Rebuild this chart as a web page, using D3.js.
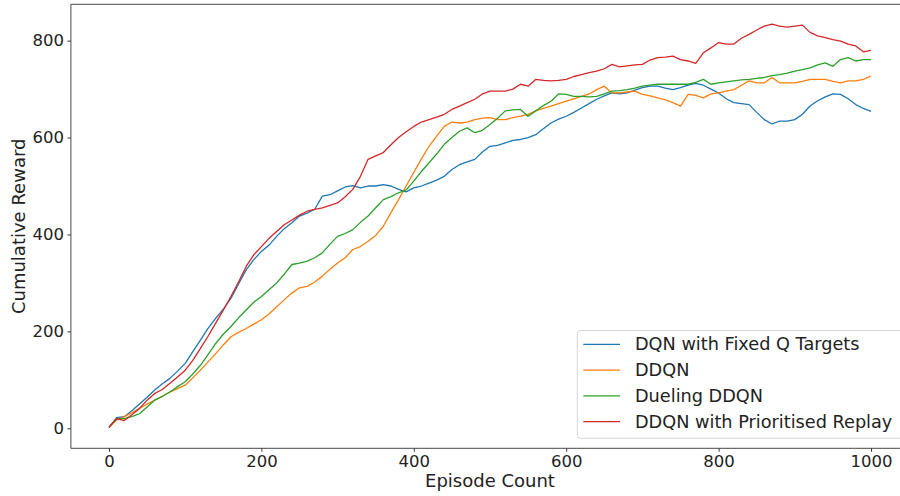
<!DOCTYPE html>
<html>
<head>
<meta charset="utf-8">
<script src="https://cdn.jsdelivr.net/npm/d3@7"></script>
<style>
  html, body { margin: 0; padding: 0; background: #fff; }
  svg { display: block; font-family: "DejaVu Sans", sans-serif; }
</style>
</head>
<body>
<svg id="chart" width="900" height="496"></svg>
<script>
// Episodes sampled every 10 steps
const episodes = d3.range(0, 1001, 10);

const seriesNames = [
  "DQN with Fixed Q Targets",
  "DDQN",
  "Dueling DDQN",
  "DDQN with Prioritised Replay"
];

const dqnFixedQ = [
  2, 22, 24, 36, 50, 64, 79, 92, 103, 118,
  134, 158, 182, 206, 227, 246, 268, 298, 327, 348,
  365, 378, 396, 412, 424, 438, 444, 452, 479, 482,
  490, 498, 501, 496, 500, 500, 503, 500, 493, 488,
  496, 500, 506, 512, 520, 534, 544, 550, 555, 570,
  582, 584, 589, 594, 596, 600, 606, 618, 630, 638,
  644, 652, 661, 670, 679, 686, 692, 690, 692, 698,
  703, 706, 706, 702, 699, 703, 708, 712, 708, 700,
  692, 680, 672, 670, 668, 652, 637, 628, 634, 634,
  637, 648, 665, 676, 684, 690, 689, 680, 668, 660,
  654
];

const ddqn = [
  2, 17, 24, 32, 41, 50, 58, 66, 75, 82,
  89, 104, 120, 137, 154, 172, 189, 198, 206, 215,
  224, 236, 251, 265, 279, 290, 293, 302, 314, 328,
  341, 352, 369, 375, 386, 398, 417, 445, 472, 500,
  528, 556, 582, 603, 623, 632, 630, 632, 637, 640,
  641, 637, 637, 641, 644, 648, 655, 660, 665, 670,
  675, 680, 685, 690, 699, 706, 692, 692, 694, 696,
  689, 686, 682, 678, 672, 665, 689, 687, 682, 690,
  692, 696, 699, 708, 717, 713, 713, 724, 713, 713,
  713, 716, 720, 720, 720, 716, 713, 717, 717, 720,
  727
];

const duelingDdqn = [
  2, 20, 20, 24, 30, 44, 58, 66, 75, 86,
  96, 112, 130, 152, 175, 194, 210, 228, 244, 260,
  272, 286, 300, 318, 338, 341, 345, 352, 362, 380,
  396, 402, 410, 425, 438, 455, 472, 478, 486, 492,
  510, 530, 548, 566, 586, 600, 613, 620, 610, 615,
  627, 640, 655, 657, 658, 644, 655, 666, 675, 690,
  689, 685, 685, 684, 685, 690, 696, 697, 699, 702,
  706, 708, 710, 710, 710, 710, 710, 714, 720, 710,
  713, 715, 717, 719, 720, 722, 724, 728, 730, 733,
  737, 740, 744, 750, 754, 747, 761, 765, 758, 761,
  761
];

const ddqnPrioritised = [
  2, 20, 16, 28, 41, 58, 72, 80, 93, 106,
  120, 140, 165, 190, 217, 244, 272, 302, 334, 358,
  375, 392, 406, 420, 430, 440, 448, 452, 455, 460,
  465, 478, 493, 520, 555, 562, 569, 585, 600, 612,
  623, 632, 637, 642, 648, 658, 665, 672, 679, 690,
  696, 696, 696, 700, 710, 706, 720, 718, 717, 718,
  720, 726, 730, 734, 737, 742, 751, 746, 748, 750,
  751, 760, 765, 766, 768, 761, 758, 753, 775, 785,
  796, 793, 793, 805, 813, 822, 830, 834, 830, 828,
  830, 832, 817, 810, 806, 802, 799, 793, 789, 777,
  780
];

const xTicks = [0, 200, 400, 600, 800, 1000];
const yTicks = [0, 200, 400, 600, 800];

const colors = ["#1f77b4", "#ff7f0e", "#2ca02c", "#d62728"];
const seriesValues = [dqnFixedQ, ddqn, duelingDdqn, ddqnPrioritised];

const svg = d3.select("#chart");

// Axes frame (the right side runs past the canvas edge)
const frame = { left: 70.9, right: 909.1, top: 4.3, bottom: 448.3 };

const x = d3.scaleLinear().domain([-50, 1050]).range([frame.left, frame.right]);
const y = d3.scaleLinear().domain([-41.3, 875]).range([frame.bottom, frame.top]);

svg.append("defs").append("clipPath").attr("id", "plot-clip")
  .append("rect")
  .attr("x", frame.left).attr("y", frame.top)
  .attr("width", frame.right - frame.left).attr("height", frame.bottom - frame.top);

// Series lines
const line = d3.line()
  .x((d, i) => x(episodes[i]))
  .y(d => y(d));

const plot = svg.append("g").attr("clip-path", "url(#plot-clip)");
seriesValues.forEach((vals, k) => {
  plot.append("path")
    .datum(vals)
    .attr("fill", "none")
    .attr("stroke", colors[k])
    .attr("stroke-width", 1.3)
    .attr("stroke-linejoin", "round")
    .attr("d", line);
});

// Axes
const xAxis = d3.axisBottom(x).tickValues(xTicks).tickSize(3.5).tickPadding(3.5).tickFormat(d3.format("d"));
const yAxis = d3.axisLeft(y).tickValues(yTicks).tickSize(3.5).tickPadding(3.5).tickFormat(d3.format("d"));

const gx = svg.append("g").attr("transform", `translate(0,${frame.bottom})`).call(xAxis);
const gy = svg.append("g").attr("transform", `translate(${frame.left},0)`).call(yAxis);

[gx, gy].forEach(g => {
  g.select(".domain").remove();
  g.selectAll(".tick line").attr("stroke", "#222").attr("stroke-width", 0.9);
  g.selectAll(".tick text")
    .attr("fill", "#222")
    .style("font-family", "'DejaVu Sans', sans-serif")
    .style("font-size", "16.5px");
});

// Spines
svg.append("line").attr("x1", frame.left).attr("x2", frame.left).attr("y1", frame.top).attr("y2", frame.bottom)
  .attr("stroke", "#333").attr("stroke-width", 0.9);
svg.append("line").attr("x1", frame.left).attr("x2", frame.right).attr("y1", frame.bottom).attr("y2", frame.bottom)
  .attr("stroke", "#333").attr("stroke-width", 0.9);
svg.append("line").attr("x1", frame.left).attr("x2", frame.right).attr("y1", frame.top).attr("y2", frame.top)
  .attr("stroke", "#333").attr("stroke-width", 0.9);

// Axis titles
svg.append("text")
  .attr("x", (frame.left + frame.right) / 2).attr("y", 487)
  .attr("text-anchor", "middle")
  .attr("fill", "#222")
  .style("font-size", "18px")
  .text("Episode Count");

svg.append("text")
  .attr("transform", `translate(25,${(frame.top + frame.bottom) / 2}) rotate(-90)`)
  .attr("text-anchor", "middle")
  .attr("fill", "#222")
  .style("font-size", "18px")
  .text("Cumulative Reward");

// Legend
const legend = svg.append("g");
legend.append("rect")
  .attr("x", 577.3).attr("y", 330.5)
  .attr("width", 330).attr("height", 107.8)
  .attr("rx", 3).attr("ry", 3)
  .attr("fill", "#fff").attr("fill-opacity", 0.8)
  .attr("stroke", "#d6d6d6").attr("stroke-width", 1);

seriesNames.forEach((name, k) => {
  const cy = 344.3 + k * 25.8;
  legend.append("line")
    .attr("x1", 583.3).attr("x2", 620)
    .attr("y1", cy).attr("y2", cy)
    .attr("stroke", colors[k]).attr("stroke-width", 1.3);
  legend.append("text")
    .attr("x", 635).attr("y", cy)
    .attr("dy", "0.35em")
    .attr("fill", "#222")
    .style("font-size", "17.7px")
    .text(name);
});
</script>
</body>
</html>
